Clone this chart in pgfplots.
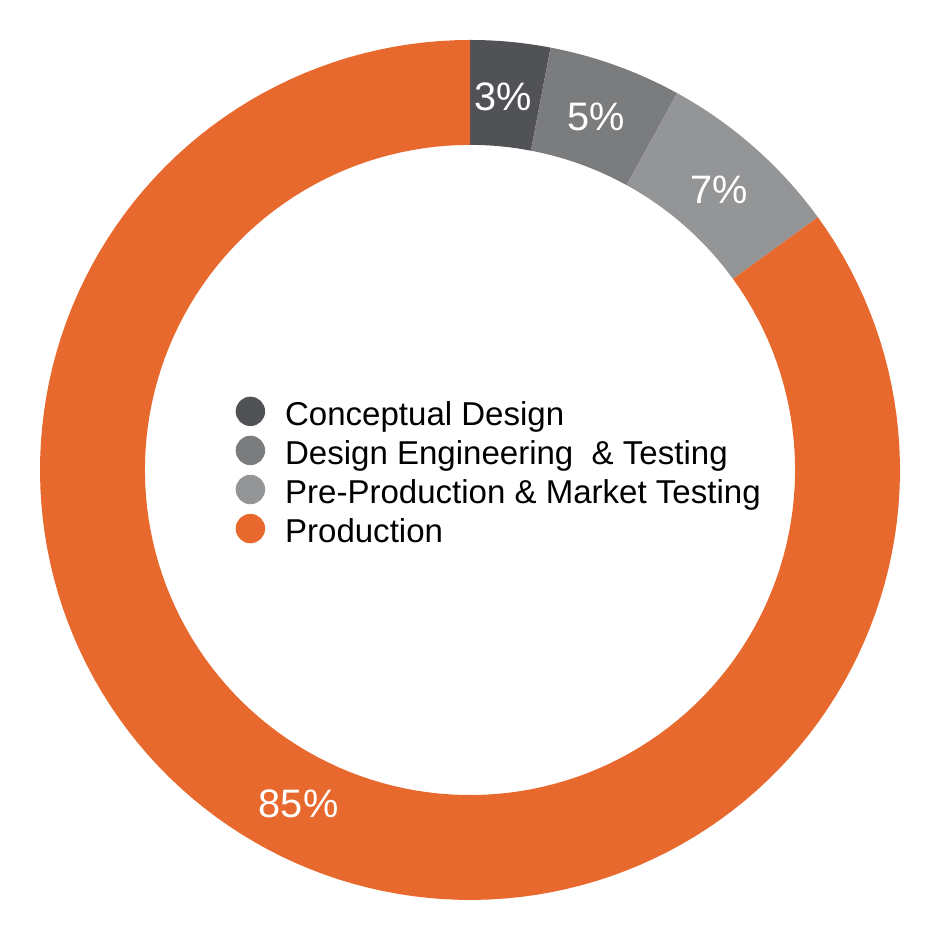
\documentclass[border=0pt]{standalone}
\usepackage{fontspec}
\setmainfont{Liberation Sans}
\usepackage{pgfplots}
\usepackage{pgfplotstable}
\pgfplotsset{compat=1.18}
\usepgfplotslibrary{fillbetween}
\definecolor{seg0}{HTML}{515256}
\definecolor{seg1}{HTML}{7B7C7E}
\definecolor{seg2}{HTML}{949597}
\definecolor{seg3}{HTML}{E8692D}

% share in percent; labelangle = clockwise angle from top where the value label sits
\pgfplotstableread{
share labelangle
3  5.1
5  19.7
7  41.6
85 207.2
}\shares

\begin{document}
\begin{tikzpicture}
\begin{axis}[
  scale only axis, width=9.4cm, height=9.3cm,
  xmin=-1.0930, xmax=1.0930, ymin=-1.0698, ymax=1.0930,
  axis line style={draw=none}, ticks=none, clip=false,
  legend cell align=left,
  legend style={at={(axis cs:-0.5465,0)}, anchor=west, draw=none, fill=none,
    inner sep=0pt, row sep=2.75pt, column sep=0.2cm,
    font=\fontsize{9.4}{11}\selectfont,
    nodes={inner sep=0pt, text height=7.8pt, text depth=0pt}},
]
\def\Ro{1}
\def\Ri{0.756}
\def\Rm{0.872}
\gdef\cum{0}
\pgfplotsforeachungrouped \idx in {0,1,2,3}{%
  \pgfplotstablegetelem{\idx}{share}\of\shares
  \let\val\pgfplotsretval
  \pgfplotstablegetelem{\idx}{labelangle}\of\shares
  \let\lang\pgfplotsretval
  \pgfmathsetmacro\aa{\cum}%
  \pgfmathsetmacro\bb{\cum+\val}%
  \xdef\cum{\bb}%
  \edef\tmp{%
    \noexpand\addplot[draw=none, forget plot, name path=out\idx, domain=\aa:\bb, samples=150]
      ({\Ro*sin(3.6*x)},{\Ro*cos(3.6*x)});
    \noexpand\addplot[draw=none, forget plot, name path=in\idx, domain=\aa:\bb, samples=150]
      ({\Ri*sin(3.6*x)},{\Ri*cos(3.6*x)});
    \noexpand\addplot[seg\idx, forget plot] fill between[of=out\idx\space and in\idx];
    \noexpand\node[text=white, font=\noexpand\fontsize{11.3}{13}\noexpand\selectfont]
      at (axis cs:{\Rm*sin(\lang)},{\Rm*cos(\lang)}) {\val\noexpand\%};
  }\tmp
}
\addlegendimage{legend image code/.code={\fill[seg0] (0.14cm,0cm) circle (0.14cm);}}
\addlegendentry{Conceptual Design}
\addlegendimage{legend image code/.code={\fill[seg1] (0.14cm,0cm) circle (0.14cm);}}
\addlegendentry{Design Engineering~ \& Testing}
\addlegendimage{legend image code/.code={\fill[seg2] (0.14cm,0cm) circle (0.14cm);}}
\addlegendentry{Pre-Production \& Market Testing}
\addlegendimage{legend image code/.code={\fill[seg3] (0.14cm,0cm) circle (0.14cm);}}
\addlegendentry{Production}
\end{axis}
\end{tikzpicture}
\end{document}
